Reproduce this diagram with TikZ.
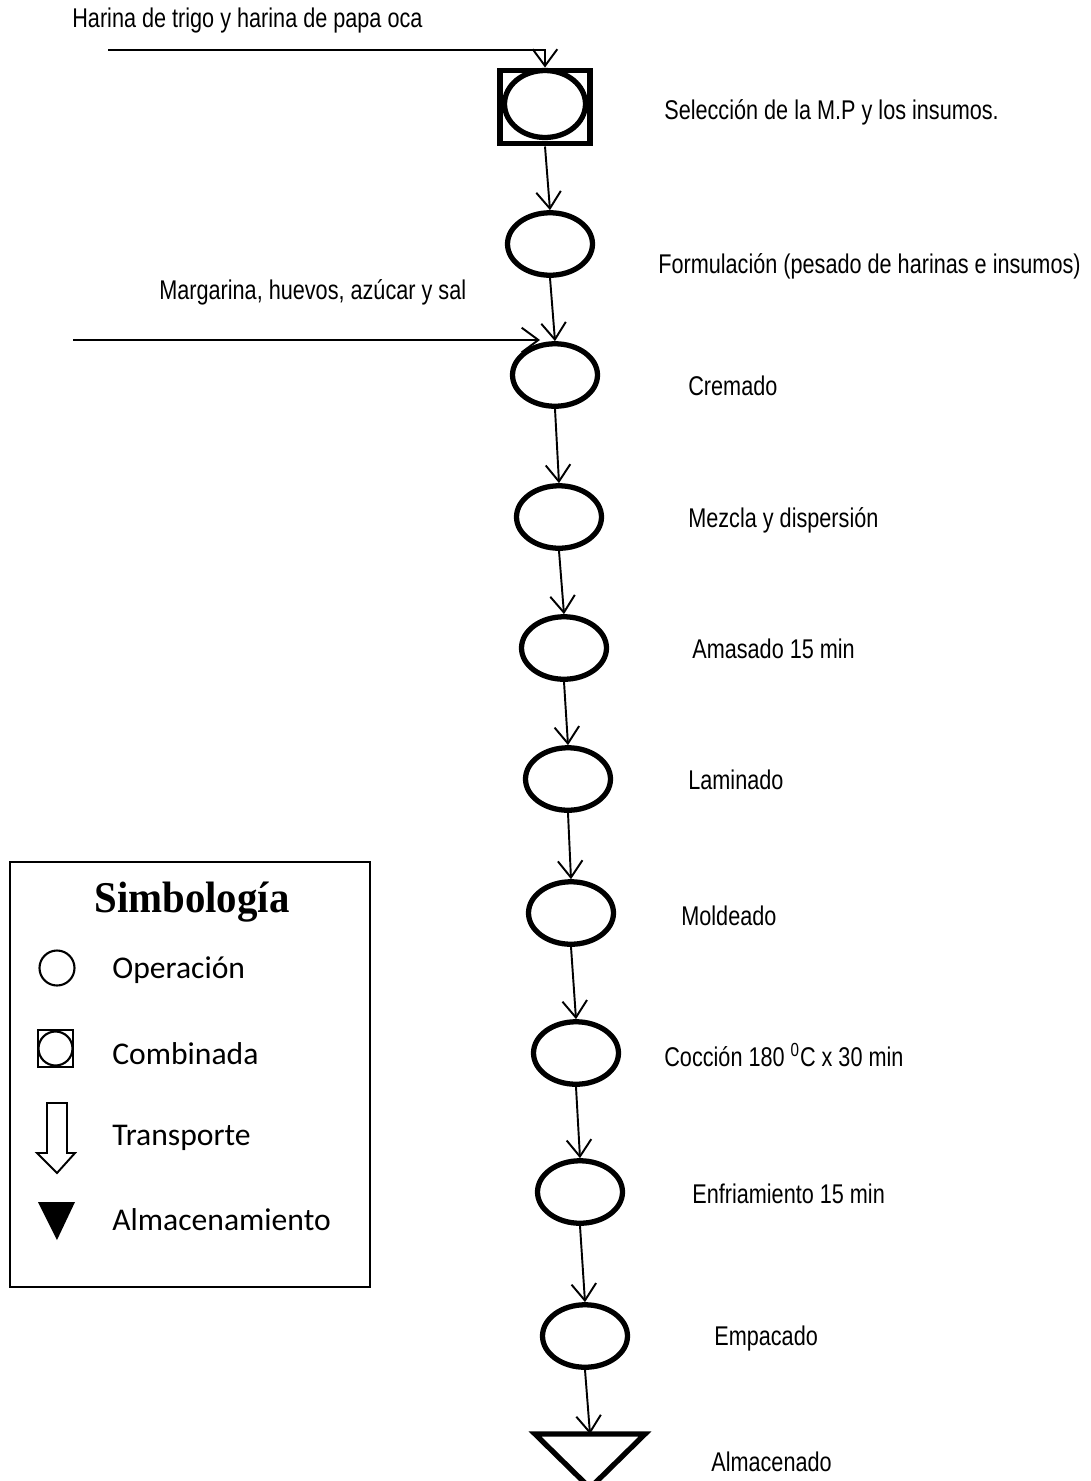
\documentclass[tikz,border=0pt]{standalone}
\usepackage{fontspec}
\setmainfont[FakeStretch=0.8]{Liberation Sans}
\newfontfamily\legfont{Carlito}
\newfontfamily\legtitle[FakeStretch=0.93]{Liberation Serif}
\usetikzlibrary{shapes.geometric,arrows.meta}

\tikzset{
  oper/.style={draw,ellipse,line width=3pt,minimum width=1.7cm,minimum height=1.25cm,inner sep=0pt},
  flow/.style={line width=1.1pt,-{Straight Barb[length=9.5pt,width=14pt]}},
  lbl/.style={anchor=west,inner sep=0pt,font=\fontsize{15.4}{18}\selectfont},
  legtxt/.style={anchor=west,inner sep=0pt,font=\legfont\fontsize{18}{21}\selectfont},
}

\begin{document}
\begin{tikzpicture}[x=0.02cm,y=-0.02cm]
  \useasboundingbox (0,0) rectangle (1090,1481);

  % proceso
  \node[draw,line width=3.4pt,minimum width=1.8cm,minimum height=1.46cm,inner sep=0pt] (sel) at (545,107) {};
  \node[oper,minimum width=1.62cm,minimum height=1.34cm] (selop) at (545,104) {};
  \node[oper] (form) at (550,244) {};
  \node[oper] (crem) at (555,375) {};
  \node[oper] (mezc) at (559,517) {};
  \node[oper] (amas) at (564,648) {};
  \node[oper] (lam) at (568,779) {};
  \node[oper] (mold) at (571,913) {};
  \node[oper] (cocc) at (576,1053) {};
  \node[oper] (enfr) at (580,1192) {};
  \node[oper] (emp) at (585,1336) {};
  \coordinate (alm) at (590,1434);
  \draw[line width=3pt,line join=miter] (535,1434) -- (645,1434) -- (590,1488) -- cycle;

  \draw[flow] (sel.south) -- (form.north);
  \draw[flow] (form.south) -- (crem.north);
  \draw[flow] (crem.south) -- (mezc.north);
  \draw[flow] (mezc.south) -- (amas.north);
  \draw[flow] (amas.south) -- (lam.north);
  \draw[flow] (lam.south) -- (mold.north);
  \draw[flow] (mold.south) -- (cocc.north);
  \draw[flow] (cocc.south) -- (enfr.north);
  \draw[flow] (enfr.south) -- (emp.north);
  \draw[flow] (emp.south) -- (alm);

  % entradas
  \coordinate (in1) at (108,50);
  \coordinate (in2) at (73,340);
  \draw[flow] (in1) -| (sel.north);
  \draw[flow,shorten >=0.3cm] (in2) -- (in2 -| crem.north);
  \node[lbl] (t_in1) at (72,21) {Harina de trigo y harina de papa oca};
  \node[lbl] (t_in2) at (159,292) {Margarina, huevos, azúcar y sal};

  % etiquetas
  \node[lbl] (t_sel) at (664,112) {Selección de la M.P y los insumos.};
  \node[lbl] (t_form) at (658,266) {Formulación (pesado de harinas e insumos)};
  \node[lbl] (t_crem) at (688,386) {Cremado};
  \node[lbl] (t_mezc) at (688,520) {Mezcla y dispersión};
  \node[lbl] (t_amas) at (692,649) {Amasado 15 min};
  \node[lbl] (t_lam) at (688,780) {Laminado};
  \node[lbl] (t_mold) at (681,916) {Moldeado};
  \node[lbl] (t_cocc) at (664,1055) {Cocción 180 \textsuperscript{0}C x 30 min};
  \node[lbl] (t_enfr) at (692,1194) {Enfriamiento 15 min};
  \node[lbl] (t_emp) at (714,1338) {Empacado};
  \node[lbl] (t_alm) at (711,1462) {Almacenado};

  % simbologia
  \node[draw,line width=1.2pt,minimum width=7.2cm,minimum height=8.5cm,inner sep=0pt] (leg) at (190,1074.5) {};
  \node[font=\legtitle\bfseries\fontsize{25}{28}\selectfont,inner sep=0pt] (legt) at (192,902) {Simbología};
  \draw[line width=1.2pt] (57,968) circle (17.5);
  \node[legtxt] (l_op) at (112,970) {Operación};
  \draw[line width=1.6pt] (38,1030) rectangle (73,1067);
  \draw[line width=1.2pt] (55.5,1048.5) circle (17);
  \node[legtxt] (l_comb) at (112,1054) {Combinada};
  \draw[line width=1.1pt,line join=miter] (47,1103) -- (67,1103) -- (67,1153) -- (75,1153) -- (57,1173) -- (37,1153) -- (47,1153) -- cycle;
  \node[legtxt] (l_tr) at (112,1138) {Transporte};
  \fill (38,1202) -- (75,1202) -- (57,1240) -- cycle;
  \node[legtxt] (l_alm) at (112,1220) {Almacenamiento};
\end{tikzpicture}
\end{document}
